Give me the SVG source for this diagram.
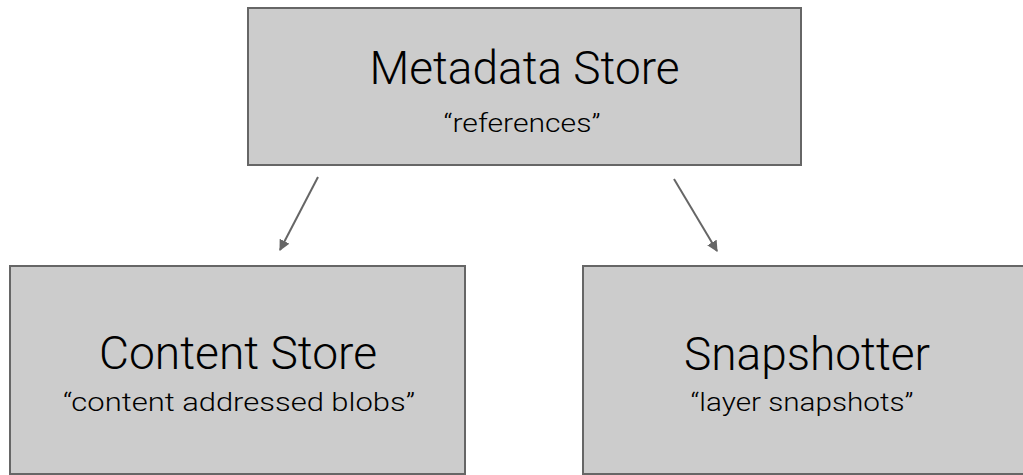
<svg xmlns="http://www.w3.org/2000/svg" width="1023" height="475" viewBox="0 0 1023 475">
  <style>
    .box { fill: #cccccc; stroke: #666666; stroke-width: 2; }
    .title { font-family: Roboto, "Liberation Sans", sans-serif; font-weight: 300; font-size: 46px; fill: #000000; text-anchor: middle; }
    .sub { font-family: Roboto, "Liberation Sans", sans-serif; font-weight: 300; font-size: 26px; fill: #000000; text-anchor: middle; }
    .edge { stroke: #666666; stroke-width: 2; fill: none; }
  </style>
  <defs>
    <marker id="arrow" viewBox="0 0 10 10" refX="9" refY="5" markerWidth="5.5" markerHeight="5.5" orient="auto" markerUnits="strokeWidth">
      <path d="M0,0 L10,5 L0,10 Z" fill="#666666"/>
    </marker>
  </defs>
  <rect width="1023" height="475" fill="#ffffff"/>

  <g id="metadata-store">
    <rect class="box" x="248" y="8" width="553" height="157"/>
    <text class="title" x="524.5" y="84" textLength="310" lengthAdjust="spacingAndGlyphs">Metadata Store</text>
    <text class="sub" x="522" y="132" textLength="157" lengthAdjust="spacingAndGlyphs">“references”</text>
  </g>

  <g id="content-store">
    <rect class="box" x="10" y="266" width="455" height="208"/>
    <text class="title" x="238" y="369" textLength="278" lengthAdjust="spacingAndGlyphs">Content Store</text>
    <text class="sub" x="239" y="411" textLength="352" lengthAdjust="spacingAndGlyphs">“content addressed blobs”</text>
  </g>

  <g id="snapshotter">
    <rect class="box" x="583" y="266" width="446" height="208"/>
    <text class="title" x="807" y="370" textLength="246" lengthAdjust="spacingAndGlyphs">Snapshotter</text>
    <text class="sub" x="802" y="411" textLength="223" lengthAdjust="spacingAndGlyphs">“layer snapshots”</text>
  </g>

  <g id="connectors">
    <line class="edge" x1="318" y1="177" x2="280" y2="250" marker-end="url(#arrow)"/>
    <line class="edge" x1="674" y1="179" x2="717" y2="251" marker-end="url(#arrow)"/>
  </g>
</svg>
